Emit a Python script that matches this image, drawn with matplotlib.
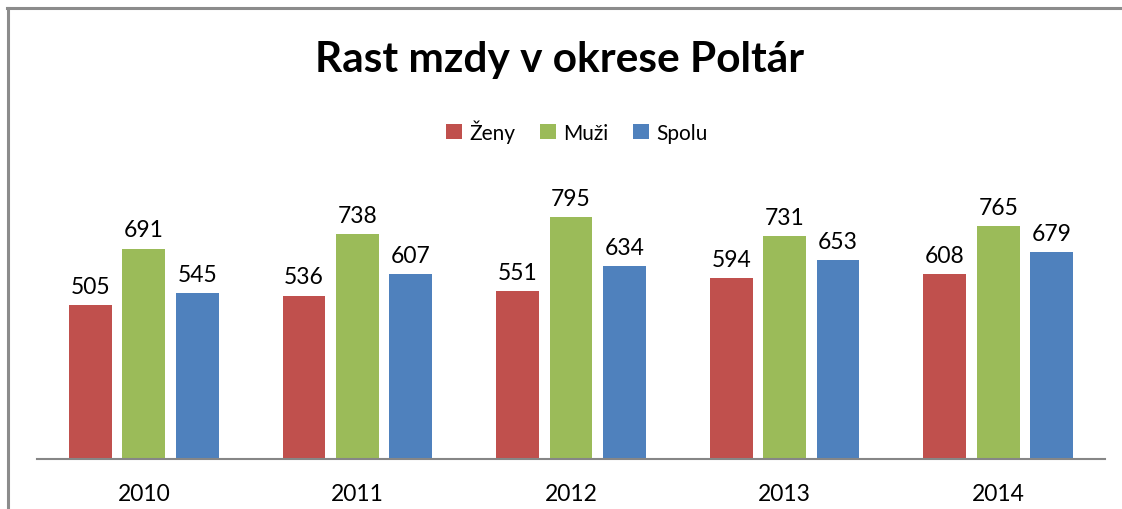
import matplotlib
matplotlib.use("Agg")
from matplotlib import pyplot as plt
from matplotlib.lines import Line2D
from matplotlib.patches import Patch
import numpy as np

plt.rcParams["font.family"] = ["Lato", "DejaVu Sans"]

# data
years = ["2010", "2011", "2012", "2013", "2014"]
zeny = [505, 536, 551, 594, 608]
muzi = [691, 738, 795, 731, 765]
spolu = [545, 607, 634, 653, 679]

series = [("Ženy", zeny, "#C0504D"),
          ("Muži", muzi, "#9BBB59"),
          ("Spolu", spolu, "#4F81BD")]

W, H = 1122, 510
fig = plt.figure(figsize=(W / 100, H / 100), dpi=100)
ax = fig.add_axes([37 / W, (H - 460) / H, (1105 - 37) / W, (460 - 186) / H])

x = np.arange(len(years))
offsets = [-0.25, 0, 0.25]
for (name, vals, col), off in zip(series, offsets):
    bars = ax.bar(x + off, vals, width=0.2, color=col, label=name, zorder=2)
    ax.bar_label(bars, labels=[str(v) for v in vals], padding=6,
                 fontsize=16.5, color="#000000")

ax.set_xlim(-0.5, len(years) - 0.5)
ax.set_ylim(0, 900)
ax.set_yticks([])
ax.set_xticks(x)
ax.set_xticklabels(years, fontsize=16.5)
ax.tick_params(axis="x", length=0, pad=17)
for s in ["left", "right", "top"]:
    ax.spines[s].set_visible(False)
ax.spines["bottom"].set_color("#868686")
ax.spines["bottom"].set_linewidth(1.5)
ax.spines["bottom"].set_zorder(3)

fig.text(560 / W, (H - 60) / H, "Rast mzdy v okrese Poltár", ha="center", va="center",
         fontsize=30.5, fontweight="bold")

handles = [Patch(facecolor=c, label=n) for n, _, c in series]
fig.legend(handles=handles, loc="center", bbox_to_anchor=(577 / W, (H - 132) / H),
           ncol=3, frameon=False, fontsize=15, handlelength=0.75, handleheight=0.75,
           handletextpad=0.35, columnspacing=1.2)

# chart border (cropped frame)
fig.add_artist(Line2D([8 / W, 8 / W], [0, (H - 9) / H], transform=fig.transFigure,
                      color="#8c8c8c", lw=2.2))
fig.add_artist(Line2D([7 / W, 1], [(H - 9) / H, (H - 9) / H], transform=fig.transFigure,
                      color="#8c8c8c", lw=2.2))

fig.savefig("out.png", dpi=100)
